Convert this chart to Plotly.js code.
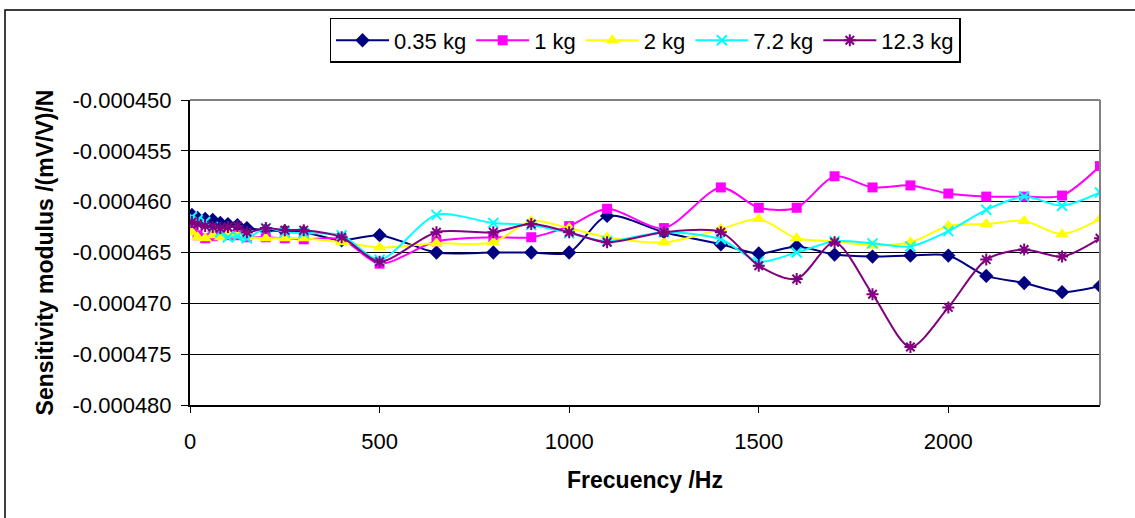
<!DOCTYPE html>
<html>
<head>
<meta charset="utf-8">
<script src="https://cdn.plot.ly/plotly-3.0.1.min.js"></script>
<style>
  html, body { margin: 0; padding: 0; background: #fff; }
  #chart { width: 1135px; height: 518px; }
</style>
</head>
<body>
<div id="chart"></div>
<script>
// Frequencies (Hz)
const freq = [5, 20, 40, 60, 80, 100, 125, 150, 200, 250, 300, 400, 500, 650, 800, 900, 1000, 1100, 1250, 1400, 1500, 1600, 1700, 1800, 1900, 2000, 2100, 2200, 2300, 2400];

// Sensitivity modulus /(mV/V)/N for each load
const s035 = [-461.3e-6, -461.6e-6, -461.7e-6, -461.8e-6, -462.1e-6, -462.2e-6, -462.3e-6, -462.6e-6, -462.8e-6, -462.9e-6, -463.0e-6, -463.8e-6, -463.3e-6, -465.0e-6, -465.0e-6, -465.0e-6, -465.0e-6, -461.4e-6, -463.0e-6, -464.2e-6, -465.1e-6, -464.4e-6, -465.2e-6, -465.4e-6, -465.3e-6, -465.3e-6, -467.3e-6, -468.0e-6, -468.9e-6, -468.3e-6];
const s1 = [-462.5e-6, -463.3e-6, -463.6e-6, -463.4e-6, -463.2e-6, -463.3e-6, -463.3e-6, -463.5e-6, -463.5e-6, -463.6e-6, -463.7e-6, -463.7e-6, -466.1e-6, -463.9e-6, -463.5e-6, -463.5e-6, -462.4e-6, -460.7e-6, -462.6e-6, -458.6e-6, -460.6e-6, -460.6e-6, -457.5e-6, -458.6e-6, -458.4e-6, -459.2e-6, -459.5e-6, -459.5e-6, -459.4e-6, -456.5e-6];
const s2 = [-463.0e-6, -463.5e-6, -463.6e-6, -463.3e-6, -463.5e-6, -463.2e-6, -463.3e-6, -463.5e-6, -463.6e-6, -463.6e-6, -463.6e-6, -464.0e-6, -464.5e-6, -464.1e-6, -464.0e-6, -461.9e-6, -462.6e-6, -463.5e-6, -464.0e-6, -462.7e-6, -461.7e-6, -463.6e-6, -463.9e-6, -464.3e-6, -464.0e-6, -462.4e-6, -462.2e-6, -461.9e-6, -463.2e-6, -461.7e-6];
const s72 = [-461.5e-6, -461.8e-6, -462.0e-6, -462.5e-6, -463.0e-6, -463.5e-6, -463.4e-6, -463.6e-6, -462.6e-6, -463.0e-6, -463.1e-6, -463.3e-6, -465.7e-6, -461.3e-6, -462.1e-6, -462.3e-6, -463.1e-6, -463.9e-6, -463.0e-6, -463.7e-6, -465.9e-6, -465.0e-6, -463.9e-6, -464.1e-6, -464.4e-6, -462.9e-6, -460.8e-6, -459.5e-6, -460.4e-6, -459.1e-6];
const s123 = [-462.0e-6, -462.2e-6, -462.4e-6, -462.5e-6, -462.6e-6, -462.5e-6, -462.4e-6, -463.0e-6, -462.6e-6, -462.8e-6, -462.8e-6, -463.5e-6, -465.9e-6, -463.0e-6, -463.0e-6, -462.2e-6, -463.0e-6, -464.0e-6, -463.0e-6, -463.0e-6, -466.3e-6, -467.6e-6, -464.0e-6, -469.1e-6, -474.3e-6, -470.4e-6, -465.7e-6, -464.7e-6, -465.4e-6, -463.6e-6];

const seriesNames = ['0.35 kg', '1 kg', '2 kg', '7.2 kg', '12.3 kg'];

// Y tick values and labels
const yTickVals = [-0.000450, -0.000455, -0.000460, -0.000465, -0.000470, -0.000475, -0.000480];
const yTickText = ['-0.000450', '-0.000455', '-0.000460', '-0.000465', '-0.000470', '-0.000475', '-0.000480'];

const seriesData = [s035, s1, s2, s72, s123];
const colors = ['#000080', '#FF00FF', '#FFFF00', '#00FFFF', '#800080'];
const symbols = ['diamond', 'square', 'triangle-up', 'x-thin-open', 'asterisk-open'];
const sizes = [11, 10, 12, 10, 10];

const FONT = 'Arial, "Liberation Sans", sans-serif';

const traces = seriesNames.map((name, i) => ({
  type: 'scatter',
  mode: 'lines+markers',
  name: name,
  x: freq,
  y: seriesData[i],
  line: { color: colors[i], width: 2, shape: 'spline', smoothing: 0.8 },
  marker: {
    symbol: symbols[i],
    size: sizes[i],
    color: colors[i],
    line: { color: colors[i], width: (i >= 3 ? 2 : 0) }
  }
}));

const layout = {
  width: 1135,
  height: 518,
  margin: { l: 190, r: 35, t: 100, b: 113 },
  paper_bgcolor: '#ffffff',
  plot_bgcolor: '#ffffff',
  font: { family: FONT, size: 22, color: '#000' },
  showlegend: true,
  legend: {
    orientation: 'h',
    x: 0.5, xanchor: 'center',
    y: 1.269, yanchor: 'top',
    bgcolor: '#ffffff',
    bordercolor: '#000000',
    borderwidth: 1.5,
    font: { family: FONT, size: 22, color: '#000' },
    itemwidth: 53,
    tracegroupgap: 0
  },
  xaxis: {
    range: [0, 2400],
    tickmode: 'linear', tick0: 0, dtick: 500,
    ticks: 'outside', ticklen: 6, tickcolor: '#000', tickwidth: 1,
    ticklabelstandoff: 10,
    showline: true, linecolor: '#000', linewidth: 2,
    showgrid: false, zeroline: false,
    tickfont: { family: FONT, size: 22, color: '#000' },
    title: { text: '<b>Frecuency /Hz</b>', font: { family: FONT, size: 23, color: '#000' }, standoff: 18 }
  },
  yaxis: {
    range: [-0.000480, -0.000450],
    tickmode: 'array', tickvals: yTickVals, ticktext: yTickText,
    ticks: 'outside', ticklen: 7, tickcolor: '#000', tickwidth: 1,
    ticklabelstandoff: 5,
    showline: true, linecolor: '#000', linewidth: 2,
    showgrid: true, gridcolor: '#000', gridwidth: 1.2,
    zeroline: false,
    tickfont: { family: FONT, size: 22, color: '#000' },
    title: { text: '<b>Sensitivity modulus /(mV/V)/N</b>', font: { family: FONT, size: 23, color: '#000' }, standoff: 12 }
  },
  shapes: [
    { type: 'line', xref: 'paper', yref: 'paper', x0: 0, x1: 1, y0: 1, y1: 1, line: { color: '#808080', width: 2 } },
    { type: 'line', xref: 'paper', yref: 'paper', x0: 1, x1: 1, y0: 0, y1: 1, line: { color: '#808080', width: 2 } },
    { type: 'rect', xref: 'paper', yref: 'paper', x0: -0.2033, x1: 1.08, y0: -0.40, y1: 1.295, line: { color: '#000', width: 1.5 }, layer: 'below' }
  ]
};

Plotly.newPlot('chart', traces, layout, { displayModeBar: false, staticPlot: true });
</script>
</body>
</html>
